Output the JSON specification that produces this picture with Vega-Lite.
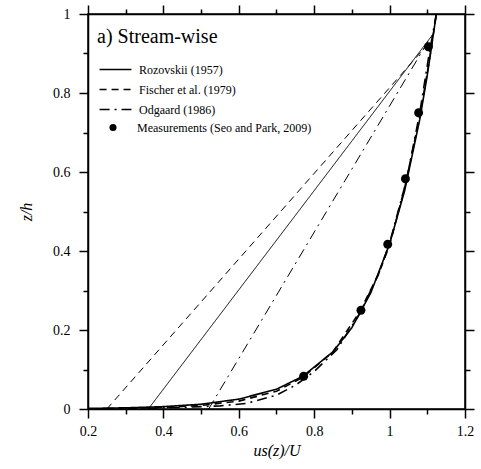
{
  "$schema": "https://vega.github.io/schema/vega-lite/v6.json",
  "width": 377,
  "height": 395,
  "autosize": "none",
  "padding": {"left": 88, "top": 14, "right": 16, "bottom": 60},
  "background": "white",
  "config": {
    "font": "'Liberation Serif', 'Times New Roman', 'DejaVu Serif', serif",
    "view": {"stroke": "black", "strokeWidth": 1.5},
    "axis": {
      "grid": false,
      "domainColor": "black",
      "domainWidth": 1.5,
      "tickColor": "black",
      "tickWidth": 1.5,
      "labelFont": "'Liberation Serif', 'Times New Roman', 'DejaVu Serif', serif",
      "labelFontSize": 14,
      "labelColor": "black",
      "titleFont": "'Liberation Serif', 'Times New Roman', 'DejaVu Serif', serif",
      "titleFontSize": 16,
      "titleFontStyle": "italic",
      "titleFontWeight": "normal",
      "titleColor": "black"
    },
    "legend": {
      "labelFont": "'Liberation Serif', 'Times New Roman', 'DejaVu Serif', serif",
      "labelFontSize": 12,
      "labelColor": "black",
      "labelLimit": 0,
      "titleFont": "'Liberation Serif', 'Times New Roman', 'DejaVu Serif', serif",
      "titleColor": "black",
      "titleLimit": 0,
      "padding": 0
    }
  },
  "datasets": {
    "lines": [
      {"model": "Rozovskii (1957)", "u": 0.36, "z": 0.0},
      {"model": "Rozovskii (1957)", "u": 1.116, "z": 0.95},
      {"model": "Fischer et al. (1979)", "u": 0.25, "z": 0.0},
      {"model": "Fischer et al. (1979)", "u": 1.112, "z": 0.935},
      {"model": "Odgaard (1986)", "u": 0.52, "z": 0.0},
      {"model": "Odgaard (1986)", "u": 1.108, "z": 0.94}
    ],
    "curves": [
      {"model": "Rozovskii (1957)", "u": 0.2, "z": 0.0015},
      {"model": "Rozovskii (1957)", "u": 0.3, "z": 0.003},
      {"model": "Rozovskii (1957)", "u": 0.4, "z": 0.006},
      {"model": "Rozovskii (1957)", "u": 0.5, "z": 0.012},
      {"model": "Rozovskii (1957)", "u": 0.6, "z": 0.025},
      {"model": "Rozovskii (1957)", "u": 0.7, "z": 0.05},
      {"model": "Rozovskii (1957)", "u": 0.77, "z": 0.083},
      {"model": "Rozovskii (1957)", "u": 0.85, "z": 0.145},
      {"model": "Rozovskii (1957)", "u": 0.9, "z": 0.206},
      {"model": "Rozovskii (1957)", "u": 0.95, "z": 0.294},
      {"model": "Rozovskii (1957)", "u": 1.0, "z": 0.418},
      {"model": "Rozovskii (1957)", "u": 1.04, "z": 0.553},
      {"model": "Rozovskii (1957)", "u": 1.08, "z": 0.733},
      {"model": "Rozovskii (1957)", "u": 1.1, "z": 0.845},
      {"model": "Rozovskii (1957)", "u": 1.124, "z": 1.0},
      {"model": "Fischer et al. (1979)", "u": 0.25, "z": 0.001},
      {"model": "Fischer et al. (1979)", "u": 0.4, "z": 0.004},
      {"model": "Fischer et al. (1979)", "u": 0.5, "z": 0.009},
      {"model": "Fischer et al. (1979)", "u": 0.6, "z": 0.02},
      {"model": "Fischer et al. (1979)", "u": 0.7, "z": 0.045},
      {"model": "Fischer et al. (1979)", "u": 0.77, "z": 0.08},
      {"model": "Fischer et al. (1979)", "u": 0.85, "z": 0.145},
      {"model": "Fischer et al. (1979)", "u": 0.92, "z": 0.245},
      {"model": "Fischer et al. (1979)", "u": 0.97, "z": 0.34},
      {"model": "Fischer et al. (1979)", "u": 1.0, "z": 0.415},
      {"model": "Fischer et al. (1979)", "u": 1.04, "z": 0.56},
      {"model": "Fischer et al. (1979)", "u": 1.08, "z": 0.74},
      {"model": "Fischer et al. (1979)", "u": 1.105, "z": 0.88},
      {"model": "Fischer et al. (1979)", "u": 1.124, "z": 1.0},
      {"model": "Odgaard (1986)", "u": 0.3, "z": 0.001},
      {"model": "Odgaard (1986)", "u": 0.45, "z": 0.004},
      {"model": "Odgaard (1986)", "u": 0.55, "z": 0.008},
      {"model": "Odgaard (1986)", "u": 0.62, "z": 0.014},
      {"model": "Odgaard (1986)", "u": 0.7, "z": 0.035},
      {"model": "Odgaard (1986)", "u": 0.75, "z": 0.06},
      {"model": "Odgaard (1986)", "u": 0.8, "z": 0.095},
      {"model": "Odgaard (1986)", "u": 0.86, "z": 0.15},
      {"model": "Odgaard (1986)", "u": 0.92, "z": 0.24},
      {"model": "Odgaard (1986)", "u": 0.97, "z": 0.34},
      {"model": "Odgaard (1986)", "u": 1.0, "z": 0.42},
      {"model": "Odgaard (1986)", "u": 1.045, "z": 0.58},
      {"model": "Odgaard (1986)", "u": 1.08, "z": 0.75},
      {"model": "Odgaard (1986)", "u": 1.105, "z": 0.9},
      {"model": "Odgaard (1986)", "u": 1.124, "z": 1.0}
    ],
    "measured": [
      {"u": 0.772, "z": 0.083},
      {"u": 0.924, "z": 0.25},
      {"u": 0.995, "z": 0.417},
      {"u": 1.042, "z": 0.583},
      {"u": 1.077, "z": 0.75},
      {"u": 1.103, "z": 0.917}
    ]
  },
  "layer": [
    {
      "data": {"name": "lines"},
      "mark": {"type": "line", "color": "black", "strokeWidth": 1},
      "encoding": {
        "x": {
          "field": "u", "type": "quantitative",
          "scale": {"domain": [0.2, 1.2], "nice": false, "zero": false},
          "axis": {
            "orient": "bottom",
            "title": "us(z)/U",
            "titlePadding": 4,
            "values": [0.2, 0.3, 0.4, 0.5, 0.6, 0.7, 0.8, 0.9, 1.0, 1.1, 1.2],
            "labelExpr": "round(datum.value*10) % 2 == 0 ? format(datum.value, '~g') : ''",
            "tickSize": {"condition": {"test": "round(datum.value*10) % 2 == 0", "value": 9}, "value": 5},
            "labelPadding": 6,
            "labelFlush": false,
            "labelOverlap": false
          }
        },
        "y": {
          "field": "z", "type": "quantitative",
          "scale": {"domain": [0, 1], "nice": false},
          "axis": {
            "orient": "left",
            "title": "z/h",
            "titlePadding": 18,
            "values": [0, 0.1, 0.2, 0.3, 0.4, 0.5, 0.6, 0.7, 0.8, 0.9, 1.0],
            "labelExpr": "round(datum.value*10) % 2 == 0 ? format(datum.value, '~g') : ''",
            "tickSize": {"condition": {"test": "round(datum.value*10) % 2 == 0", "value": 9}, "value": 5},
            "labelPadding": 9,
            "labelFlush": false,
            "labelOverlap": false
          }
        },
        "strokeDash": {
          "field": "model", "type": "nominal",
          "scale": {
            "domain": ["Rozovskii (1957)", "Fischer et al. (1979)", "Odgaard (1986)"],
            "range": [[1, 0], [7, 5], [10, 5, 2, 5]]
          },
          "legend": {
            "title": "a) Stream-wise",
            "titleFontSize": 20,
            "titleFontWeight": "normal",
            "titlePadding": 16,
            "orient": "none",
            "legendX": 9,
            "legendY": 13,
            "symbolType": "M-3,0H3",
            "symbolSize": 113,
            "symbolStrokeWidth": 1.6,
            "symbolStrokeColor": "black",
            "symbolOffset": 12,
            "labelOffset": 17,
            "rowPadding": 7
          }
        }
      }
    },
    {
      "data": {"name": "curves"},
      "mark": {"type": "line", "color": "black", "strokeWidth": 1.6},
      "encoding": {
        "x": {
          "field": "u", "type": "quantitative",
          "axis": {
            "orient": "top", "title": null,
            "values": [0.2, 0.3, 0.4, 0.5, 0.6, 0.7, 0.8, 0.9, 1.0, 1.1, 1.2],
            "labelColor": "transparent",
            "labelFontSize": 0,
            "tickSize": {"condition": {"test": "round(datum.value*10) % 2 == 0", "value": 9}, "value": 5}
          }
        },
        "y": {
          "field": "z", "type": "quantitative",
          "axis": {
            "orient": "right", "title": null,
            "values": [0, 0.1, 0.2, 0.3, 0.4, 0.5, 0.6, 0.7, 0.8, 0.9, 1.0],
            "labelColor": "transparent",
            "labelFontSize": 0,
            "tickSize": {"condition": {"test": "round(datum.value*10) % 2 == 0", "value": 9}, "value": 5}
          }
        },
        "strokeDash": {"field": "model", "type": "nominal"}
      }
    },
    {
      "data": {"name": "measured"},
      "mark": {"type": "point", "filled": true, "color": "black", "opacity": 1, "size": 80},
      "encoding": {
        "x": {"field": "u", "type": "quantitative", "axis": null},
        "y": {"field": "z", "type": "quantitative", "axis": null},
        "shape": {
          "datum": "Measurements (Seo and Park, 2009)",
          "scale": {"range": ["circle"]},
          "legend": {
            "title": null,
            "orient": "none",
            "legendX": 19,
            "legendY": 107.5,
            "symbolSize": 50,
            "symbolFillColor": "black",
            "symbolStrokeColor": "black",
            "labelOffset": 18
          }
        }
      }
    }
  ],
  "resolve": {"axis": {"x": "independent", "y": "independent"}}
}
